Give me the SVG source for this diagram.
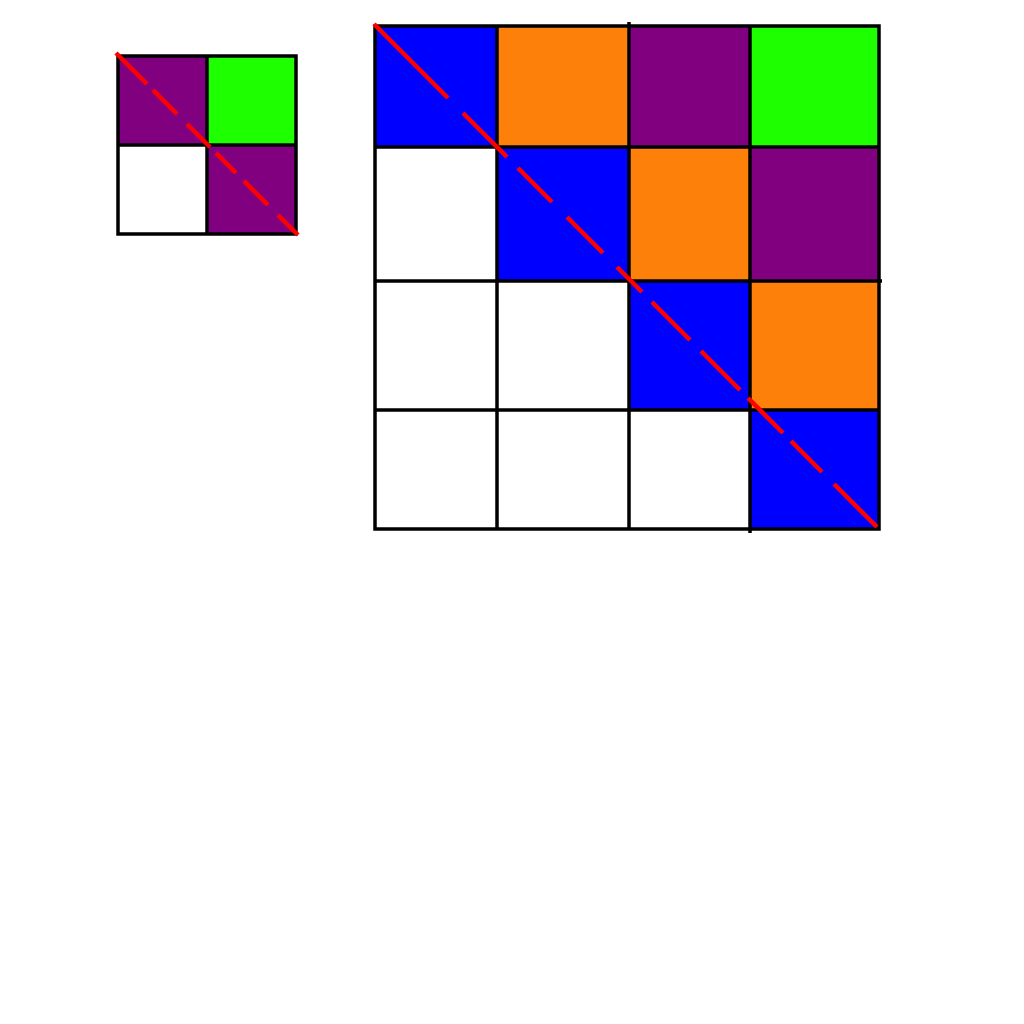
<svg xmlns="http://www.w3.org/2000/svg" width="1024" height="1024" viewBox="0 0 1024 1024">
<style>
.g{stroke:#000;stroke-width:3.5;fill:none}
.d{stroke:#ff0000;stroke-width:4.5;fill:none;stroke-linecap:butt}
.b{fill:#0000ff}.o{fill:#fd800a}.p{fill:#800080}.gr{fill:#1eff00}
</style>
<rect width="1024" height="1024" fill="#fff"/>
<g id="small-grid">
<rect class="p" x="118" y="56" width="89" height="89"/>
<rect class="gr" x="207" y="56" width="89" height="89"/>
<rect class="p" x="207" y="145" width="89" height="89"/>
<path class="g" d="M118 56H296V234H118Z M207 56V234 M118 145H296"/>
<path class="d" d="M116 53L147 84 M153 90L177 114 M187 124L210 147 M216 153L236 173 M244 181L268 205 M278 215L298 235"/>
</g>
<g id="big-grid">
<rect class="b" x="375" y="26" width="122" height="121"/>
<rect class="o" x="497" y="26" width="132" height="121"/>
<rect class="p" x="629" y="26" width="121" height="121"/>
<rect class="gr" x="750" y="26" width="129" height="121"/>
<rect class="b" x="497" y="147" width="132" height="134"/>
<rect class="o" x="629" y="147" width="121" height="134"/>
<rect class="p" x="750" y="147" width="129" height="134"/>
<rect class="b" x="629" y="281" width="121" height="129"/>
<rect class="o" x="750" y="281" width="129" height="129"/>
<rect class="b" x="750" y="410" width="129" height="119"/>
<path class="g" d="M375 26H879V529H375Z M497 26V529 M629 22V529 M750 26V533 M375 147H879 M375 281H882 M375 410H879"/>
<path class="d" d="M374 24L448 98 M463 113L507 157 M518 168L552 202 M567 217L603 253 M617 267L642 292 M652 302L690 340 M701 351L740 390 M748 398L783 433 M791 441L822 472 M834 484L877 527"/>
</g>
</svg>
